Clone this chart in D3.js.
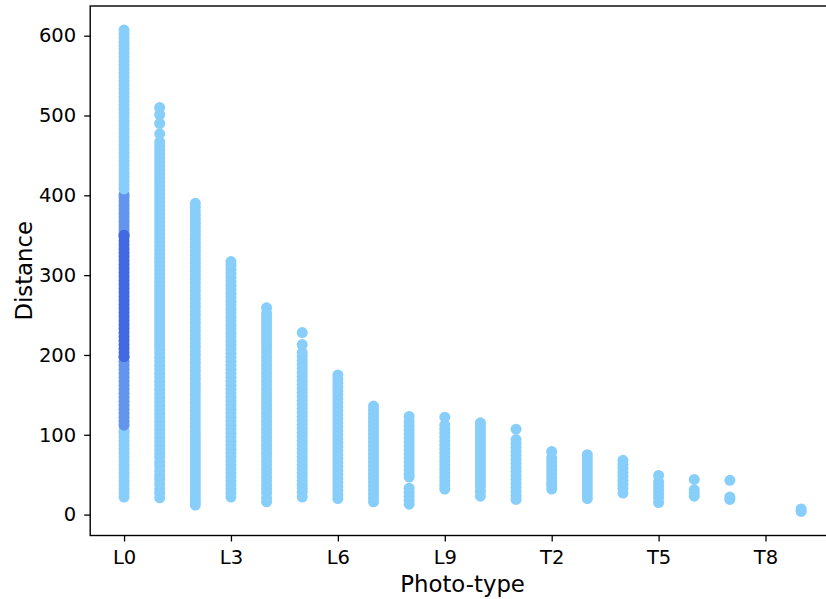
<!DOCTYPE html>
<html>
<head>
<meta charset="utf-8">
<script src="https://cdn.jsdelivr.net/npm/d3@7"></script>
<style>
  html, body { margin: 0; padding: 0; background: #fff; }
  svg { display: block; }
  text { font-family: "DejaVu Sans", sans-serif; }
</style>
</head>
<body>
<svg id="chart" width="826" height="599"></svg>
<script>
// ---- data ----
const categories = ["L0","L1","L2","L3","L4","L5","L6","L7","L8","L9",
                    "T0","T1","T2","T3","T4","T5","T6","T7","T8","T9"];
const xTickIndices = [0, 3, 6, 9, 12, 15, 18];
const yTicks = [0, 100, 200, 300, 400, 500, 600];

// light sky blue points, one list per photo-type
const distL0 = [22,27,32,37,42,47,52,57,62,67,72,77,82,87,92,97,102,106,
  408,413,418,423,428,433,438,443,448,453,458,463,468,473,478,483,488,493,498,503,508,513,518,523,528,533,538,543,548,553,558,563,568,573,578,583,588,592,597,602,607];
const distL1 = [510,501,490,477,467,462,457,452,447,442,437,432,427,422,417,412,407,402,397,392,387,382,377,372,367,362,357,352,347,342,337,332,327,322,317,312,307,302,297,292,287,282,277,272,267,262,257,252,247,242,237,232,227,222,217,212,207,202,197,192,187,182,177,172,167,162,157,152,147,142,137,132,127,122,117,112,107,102,97,92,87,82,77,72,66,61,55,49,44,38,32,27,21];
const distL2 = [390,385,380,375,370,365,360,355,350,345,340,335,330,325,320,315,310,305,300,295,290,285,280,275,270,265,260,255,250,245,240,235,230,225,220,215,210,205,200,195,190,185,180,175,170,165,160,155,150,145,140,135,130,125,120,115,110,105,100,95,90,85,80,75,70,65,60,55,50,45,40,35,30,25,20,16,12];
const distL3 = [317,312,307,302,297,292,287,282,277,272,267,262,257,252,247,242,237,232,227,222,217,212,207,202,197,192,187,182,177,172,167,162,157,152,147,142,137,132,127,122,117,112,107,102,97,92,87,82,77,72,67,62,57,52,47,42,37,32,27,22];
const distL4 = [259,252,247,242,237,232,227,222,217,212,207,202,197,192,187,182,177,172,167,162,157,152,147,142,137,132,127,122,117,112,107,102,97,92,87,82,77,72,67,62,57,52,47,42,37,32,27,21,16];
const distL5 = [228,213,203,198,193,188,183,178,173,168,163,158,153,148,143,138,133,128,123,118,113,108,103,98,93,88,83,78,73,68,63,58,53,48,43,38,33,28,22];
const distL6 = [175,170,165,160,155,150,145,140,135,130,125,120,115,110,105,100,95,90,85,80,75,70,65,60,55,50,45,40,35,30,25,20];
const distL7 = [136,131,126,121,116,111,106,101,96,91,86,81,76,71,66,61,56,51,46,41,36,31,26,21,16];
const distL8 = [123,116,111,106,101,96,91,86,81,76,71,66,61,56,51,47,33,28,23,18,13];
const distL9 = [122,112,107,102,97,92,87,82,77,72,67,62,57,52,47,42,37,32];
const distT0 = [115,110,105,100,95,90,85,80,75,70,65,60,55,50,45,40,35,29,23];
const distT1 = [107,94,89,84,79,74,69,64,59,54,49,44,39,34,29,24,19];
const distT2 = [79,71,66,61,56,51,46,41,37,32];
const distT3 = [75,70,65,60,55,50,45,40,35,30,25,20];
const distT4 = [68,63,58,53,48,43,38,33,27];
const distT5 = [49,41,36,31,26,21,15];
const distT6 = [44,31,27,23];
const distT7 = [43,22,19];
const distT8 = [];
const distT9 = [7,4];
const lightDistances = [distL0,distL1,distL2,distL3,distL4,distL5,distL6,distL7,distL8,distL9,
                        distT0,distT1,distT2,distT3,distT4,distT5,distT6,distT7,distT8,distT9];

// L0 highlighted points
const l0MidDistances = [112,117,122,127,132,137,142,147,152,157,162,167,172,177,182,187,192,197,
  352,357,362,367,372,377,382,387,392,397,401];
const l0DarkDistances = [198,203,208,213,218,223,228,233,238,243,248,253,258,263,268,273,278,283,288,293,298,303,308,313,318,323,328,333,338,343,348,350];

const colors = { light: "#87CEFA", mid: "#6495ED", dark: "#4169E1" };

// ---- layout ----
const svg = d3.select("#chart");
const plotLeft = 90.2, plotRight = 835, plotTop = 6, plotBottom = 535.5;

const x = d3.scaleLinear().domain([-0.95, 19.95]).range([plotLeft, plotRight]);
const y = d3.scaleLinear().domain([-26.2, 637.2]).range([plotBottom, plotTop]);

// build points: light + mid sorted by value, dark drawn last
let pts = [];
lightDistances.forEach((arr, i) => arr.forEach(v => pts.push({ i, v, tone: "light" })));
l0MidDistances.forEach(v => pts.push({ i: 0, v, tone: "mid" }));
const base = pts.slice().sort((a, b) => a.i - b.i || a.v - b.v);
const dark = l0DarkDistances.map(v => ({ i: 0, v, tone: "dark" }));
const allPts = base.concat(dark);

svg.append("g")
  .selectAll("circle")
  .data(allPts)
  .join("circle")
  .attr("cx", d => x(d.i))
  .attr("cy", d => y(d.v))
  .attr("r", 5.5)
  .attr("fill", d => colors[d.tone]);

// axes
const fontSize = 19.5;
const xAxis = d3.axisBottom(x)
  .tickValues(xTickIndices)
  .tickFormat(i => categories[i])
  .tickSizeInner(6).tickSizeOuter(0).tickPadding(8.5);
const yAxis = d3.axisLeft(y)
  .tickValues(yTicks)
  .tickFormat(d3.format("d"))
  .tickSizeInner(6).tickSizeOuter(0).tickPadding(8);

const gx = svg.append("g").attr("transform", `translate(0,${plotBottom})`).call(xAxis);
const gy = svg.append("g").attr("transform", `translate(${plotLeft},0)`).call(yAxis);
[gx, gy].forEach(g => {
  g.select(".domain").remove();
  g.selectAll(".tick line").attr("stroke", "#000").attr("stroke-width", 1.3);
  g.selectAll(".tick text").attr("fill", "#000")
    .style("font-family", "'DejaVu Sans', sans-serif").style("font-size", fontSize + "px");
});

// frame
svg.append("rect")
  .attr("x", plotLeft).attr("y", plotTop)
  .attr("width", plotRight - plotLeft).attr("height", plotBottom - plotTop)
  .attr("fill", "none").attr("stroke", "#000").attr("stroke-width", 1.4);

// axis labels
svg.append("text")
  .attr("x", (plotLeft + plotRight) / 2).attr("y", 592)
  .attr("text-anchor", "middle")
  .style("font-size", "22.8px").attr("fill", "#000")
  .text("Photo-type");
svg.append("text")
  .attr("transform", `translate(32,${(plotTop + plotBottom) / 2}) rotate(-90)`)
  .attr("text-anchor", "middle")
  .style("font-size", "22.8px").attr("fill", "#000")
  .text("Distance");
</script>
</body>
</html>
